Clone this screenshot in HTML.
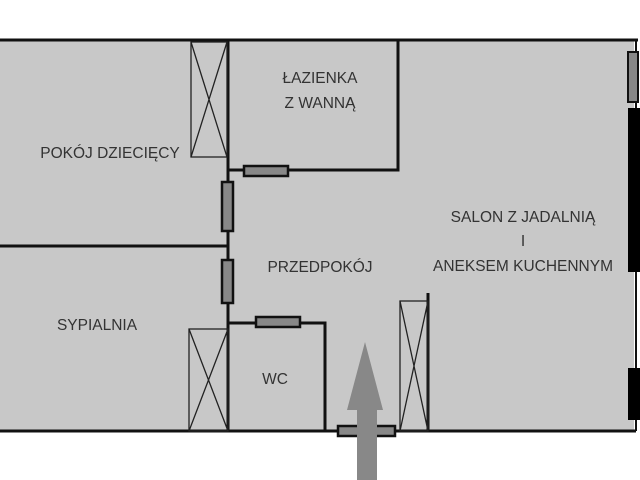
<!DOCTYPE html>
<html><head><meta charset="utf-8"><style>
html,body{margin:0;padding:0;background:#fff;}
svg{display:block}
text{font-family:"Liberation Sans","DejaVu Sans",sans-serif;font-size:15.5px;fill:#333;text-anchor:middle}
</style></head><body>
<svg width="640" height="480" viewBox="0 0 640 480">
<rect x="0" y="40" width="634" height="391" fill="#c8c8c8"/>
<line x1="0" y1="40" x2="638" y2="40" stroke="#111" stroke-width="3"/>
<line x1="0" y1="431" x2="636" y2="431" stroke="#111" stroke-width="3"/>
<line x1="636" y1="40" x2="636" y2="431" stroke="#111" stroke-width="2"/>
<rect x="628" y="52" width="10" height="50" fill="#888" stroke="#111" stroke-width="2"/>
<rect x="628" y="108" width="12" height="164" fill="#000"/>
<rect x="628" y="368" width="12" height="52" fill="#000"/>
<line x1="228" y1="40" x2="228" y2="431" stroke="#111" stroke-width="3"/>
<line x1="0" y1="246" x2="228" y2="246" stroke="#111" stroke-width="3"/>
<polyline points="228,170 398,170 398,40" fill="none" stroke="#111" stroke-width="3"/>
<polyline points="228,323 325,323 325,431" fill="none" stroke="#111" stroke-width="3"/>
<line x1="428" y1="293" x2="428" y2="431" stroke="#111" stroke-width="3"/>
<g fill="none" stroke="#222" stroke-width="1.3">
<rect x="191" y="42" width="36" height="115"/><path d="M191 42L227 157M227 42L191 157"/>
<rect x="189" y="329" width="39" height="102"/><path d="M189 329L228 431M228 329L189 431"/>
<rect x="400" y="301" width="28" height="130"/><path d="M400 301L428 431M428 301L400 431"/>
</g>
<g fill="#888" stroke="#111" stroke-width="2.5">
<rect x="222" y="182" width="11" height="49"/>
<rect x="222" y="260" width="11" height="43"/>
<rect x="244" y="166" width="44" height="10"/>
<rect x="256" y="317" width="44" height="10"/>
<rect x="338" y="426" width="57" height="10"/>
</g>
<rect x="357" y="408" width="20" height="72" fill="#888"/>
<polygon points="365,342 383,410 347,410" fill="#888"/>
<text x="110" y="158">POKÓJ DZIECIĘCY</text>
<text x="320" y="83">ŁAZIENKA</text>
<text x="320" y="108">Z WANNĄ</text>
<text x="523" y="222">SALON Z JADALNIĄ</text>
<text x="523" y="246">I</text>
<text x="523" y="271">ANEKSEM KUCHENNYM</text>
<text x="320" y="272">PRZEDPOKÓJ</text>
<text x="97" y="330">SYPIALNIA</text>
<text x="275" y="384">WC</text>
</svg>
</body></html>
